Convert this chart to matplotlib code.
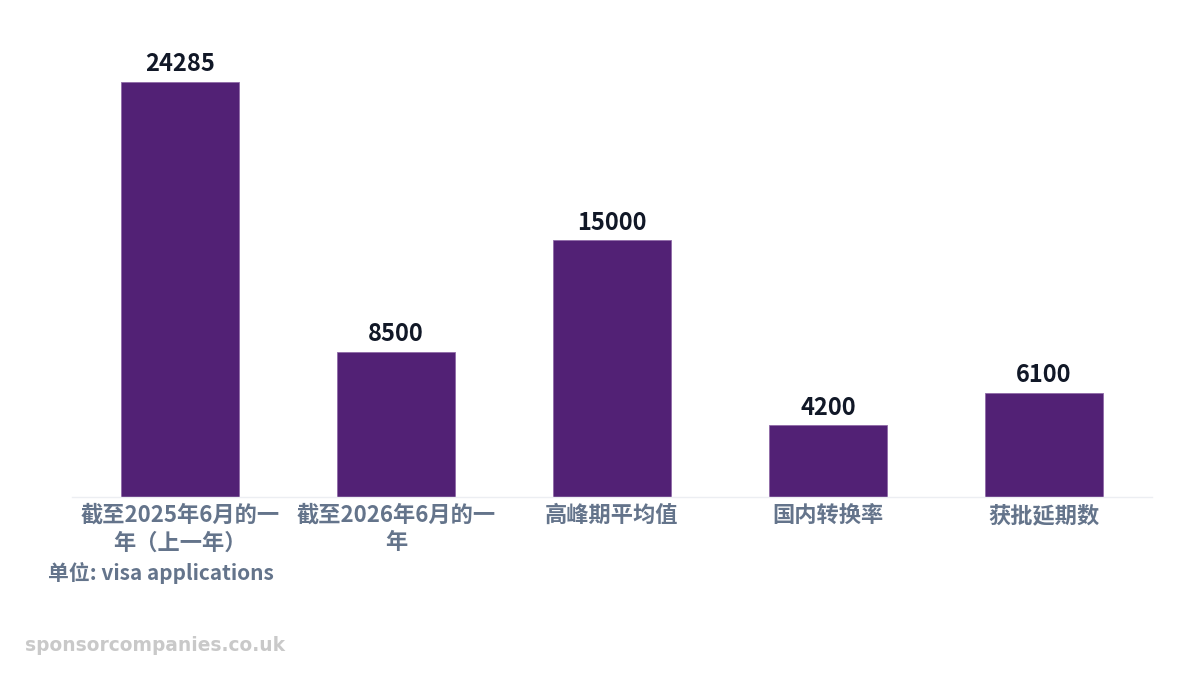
import matplotlib
matplotlib.use("Agg")
import matplotlib.pyplot as plt

plt.rcParams["font.family"] = ["Noto Sans CJK SC", "DejaVu Sans"]

# ---------------------------------------------------------------
# Data
# ---------------------------------------------------------------
categories = [
    "截至2025年6月的一\n年（上一年）",
    "截至2026年6月的一\n年",
    "高峰期平均值",
    "国内转换率",
    "获批延期数",
]
values = [24285, 8500, 15000, 4200, 6100]

bar_color = "#522175"
label_color = "#64748b"
value_color = "#111827"

fig = plt.figure(figsize=(12, 6.75), dpi=100)
ax = fig.add_axes([0.06, 0.2637, 0.90, 0.677])

x = range(len(categories))
bars = ax.bar(x, values, width=0.55, color=bar_color,
              edgecolor="#8f6aa8", linewidth=0.6, zorder=2)

ax.set_xlim(-0.5, len(categories) - 0.5)
ax.set_ylim(0, max(values) * 1.1)

for bar, v in zip(bars, values):
    ax.annotate(f"{v}", (bar.get_x() + bar.get_width() / 2, v),
                xytext=(0, 4), textcoords="offset points",
                ha="center", va="bottom", fontsize=17,
                fontweight="bold", color=value_color)

ax.set_xticks(list(x))
ax.set_xticklabels(categories, fontsize=16, fontweight="bold",
                   color=label_color, linespacing=1.25)
ax.tick_params(axis="x", length=0, pad=5)
ax.set_yticks([])

for side in ["top", "right", "left"]:
    ax.spines[side].set_visible(False)
ax.spines["bottom"].set_color("#eceef2")
ax.spines["bottom"].set_linewidth(1)

fig.text(0.04, 0.151, "单位: visa applications", fontsize=15,
         fontweight="bold", color=label_color, va="center", ha="left")

fig.text(0.021, 0.044, "sponsorcompanies.co.uk", fontsize=13.4,
         fontweight="bold", color="#c9c9c9", va="center", ha="left",
         family="DejaVu Sans")

fig.savefig("out.png", dpi=100)
